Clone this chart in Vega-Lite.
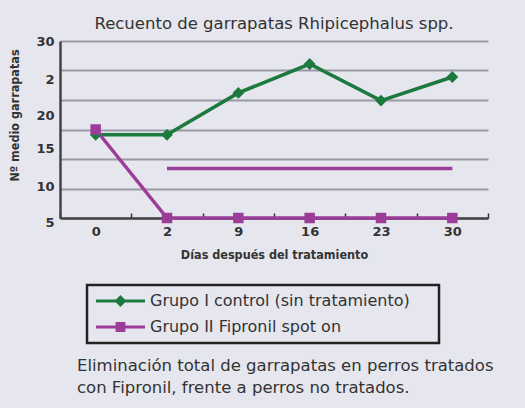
{
  "$schema": "https://vega.github.io/schema/vega-lite/v6.json",
  "background": "#e6e6ee",
  "padding": {"left": 8, "top": 15, "right": 40, "bottom": 30},
  "config": {"view": {"stroke": null}, "font": "DejaVu Sans", "concat": {"spacing": 0}},
  "title": {
    "text": ["Eliminación total de garrapatas en perros tratados", "con Fipronil, frente a perros no tratados."],
    "orient": "bottom", "anchor": "start", "frame": "group",
    "fontSize": 16.5, "fontWeight": "normal", "font": "DejaVu Sans", "color": "#333",
    "lineHeight": 22, "offset": 14, "dx": 17
  },
  "vconcat": [
    {
      "width": 428,
      "height": 177,
      "title": {
        "text": "Recuento de garrapatas Rhipicephalus spp.",
        "fontSize": 16.5, "fontWeight": "normal", "font": "DejaVu Sans", "color": "#333",
        "offset": 3, "anchor": "middle"
      },
      "data": {
        "values": [
          {"dia": "0", "valor": 19.1, "grupo": "Grupo I control (sin tratamiento)"},
          {"dia": "2", "valor": 19.1, "grupo": "Grupo I control (sin tratamiento)"},
          {"dia": "9", "valor": 26.2, "grupo": "Grupo I control (sin tratamiento)"},
          {"dia": "16", "valor": 31.1, "grupo": "Grupo I control (sin tratamiento)"},
          {"dia": "23", "valor": 24.9, "grupo": "Grupo I control (sin tratamiento)"},
          {"dia": "30", "valor": 28.9, "grupo": "Grupo I control (sin tratamiento)"},
          {"dia": "0", "valor": 20.0, "grupo": "Grupo II Fipronil spot on"},
          {"dia": "2", "valor": 5.0, "grupo": "Grupo II Fipronil spot on"},
          {"dia": "9", "valor": 5.0, "grupo": "Grupo II Fipronil spot on"},
          {"dia": "16", "valor": 5.0, "grupo": "Grupo II Fipronil spot on"},
          {"dia": "23", "valor": 5.0, "grupo": "Grupo II Fipronil spot on"},
          {"dia": "30", "valor": 5.0, "grupo": "Grupo II Fipronil spot on"}
        ]
      },
      "encoding": {
        "x": {
          "field": "dia", "type": "ordinal", "bandPosition": 0.5,
          "sort": ["0", "2", "9", "16", "23", "30"],
          "scale": {"type": "band", "paddingInner": 0, "paddingOuter": 0},
          "axis": {
            "title": "Días después del tratamiento",
            "labelAngle": 0, "tickBand": "extent", "tickSize": -5, "tickColor": "#333", "tickWidth": 1.5,
            "domainColor": "#444", "domainWidth": 2.5, "grid": false,
            "labelFont": "DejaVu Sans", "labelFontWeight": "bold", "labelFontSize": 13, "labelColor": "#333", "labelPadding": 12,
            "titleFont": "DejaVu Sans Condensed", "titleFontWeight": "bold", "titleFontSize": 12.5, "titleColor": "#333", "titlePadding": 10
          }
        },
        "y": {
          "field": "valor", "type": "quantitative",
          "scale": {"domain": [5, 35], "nice": false, "zero": false},
          "axis": {
            "title": "Nº medio garrapatas",
            "values": [5, 10, 10.4, 15, 16.7, 20, 22.3, 25, 28.4, 30, 35],
            "labelExpr": "datum.value == 35 ? '30' : datum.value == 28.4 ? '2' : datum.value == 22.3 ? '20' : datum.value == 16.7 ? '15' : datum.value == 10.4 ? '10' : datum.value == 5 ? '5' : ''",
            "labelOffset": {"condition": {"test": "datum.value == 5", "value": 4}, "value": 0},
            "gridOpacity": {"condition": {"test": "datum.value % 5 == 0", "value": 1}, "value": 0},
            "grid": true, "gridColor": "#9a9aa6", "gridWidth": 2,
            "ticks": false, "domainColor": "#444", "domainWidth": 2.5,
            "labelOverlap": false, "labelFlush": false,
            "labelFont": "DejaVu Sans", "labelFontWeight": "bold", "labelFontSize": 13, "labelColor": "#333", "labelPadding": 6,
            "titleFont": "DejaVu Sans Condensed", "titleFontWeight": "bold", "titleFontSize": 12.5, "titleColor": "#333", "titlePadding": 14,
            "titleY": 74
          }
        }
      },
      "layer": [
        {
          "data": {"values": [{"dia": "2", "valor": 13.4}, {"dia": "30", "valor": 13.4}]},
          "mark": {"type": "line", "color": "#9b3d98", "strokeWidth": 3.5},
          "encoding": {}
        },
        {
          "mark": {"type": "line", "strokeWidth": 3.5},
          "encoding": {
            "color": {
              "field": "grupo", "type": "nominal",
              "scale": {"domain": ["Grupo I control (sin tratamiento)", "Grupo II Fipronil spot on"], "range": ["#1d7a3e", "#9b3d98"]},
              "legend": {
                "title": null, "orient": "none", "legendX": 27, "legendY": 244, "direction": "vertical",
                "strokeColor": "#222", "padding": 8,
                "symbolSize": 196, "labelOffset": 39, "labelLimit": 500,
                "labelExpr": "datum.label + '\u00a0\u00a0\u00a0\u00a0\u200b'",
                "labelFont": "DejaVu Sans", "labelFontSize": 16, "labelColor": "#333", "rowPadding": 10,
                "encode": {
                  "symbols": {
                    "update": {
                      "shape": {"signal": "datum.value == 'Grupo I control (sin tratamiento)' ? 'M-1,-0.2H6V0.2H-1Z M2.5,-0.85L3.35,0L2.5,0.85L1.65,0Z' : 'M-1,-0.2H6V0.2H-1Z M1.8,-0.7H3.2V0.7H1.8Z'"},
                      "fill": {"scale": "color", "field": "value"},
                      "strokeWidth": {"value": 0},
                      "opacity": {"value": 1}
                    }
                  },
                  "legend": {"update": {"strokeWidth": {"value": 2.5}}}
                }
              }
            }
          }
        },
        {
          "transform": [{"filter": "datum.grupo == 'Grupo I control (sin tratamiento)'"}],
          "mark": {"type": "point", "shape": "diamond", "filled": true, "size": 140, "opacity": 1},
          "encoding": {"color": {"field": "grupo", "type": "nominal", "legend": null}}
        },
        {
          "transform": [{"filter": "datum.grupo == 'Grupo II Fipronil spot on'"}],
          "mark": {"type": "point", "shape": "square", "filled": true, "size": 110, "opacity": 1},
          "encoding": {"color": {"field": "grupo", "type": "nominal", "legend": null}}
        }
      ]
    }
  ]
}
